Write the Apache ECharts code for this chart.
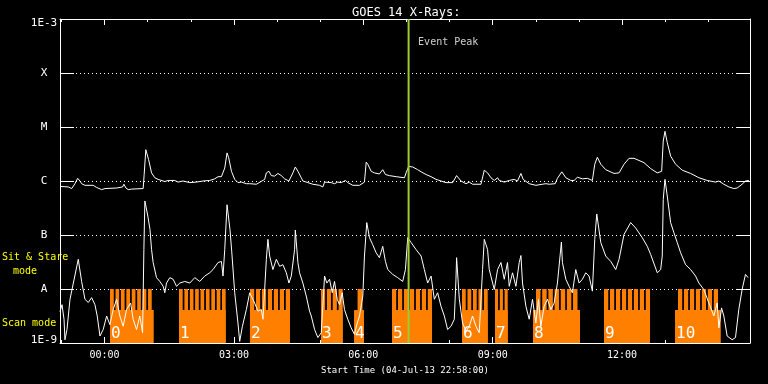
<!DOCTYPE html>
<html><head><meta charset="utf-8">
<script src="https://cdn.jsdelivr.net/npm/echarts@6/dist/echarts.min.js"></script>
<style>html,body{margin:0;padding:0;background:#000}#c{width:768px;height:384px}</style>
</head><body><div id="c"></div>
<script>
// time values are minutes after the start time 04-Jul-13 22:58:00
const titleText = 'GOES 14 X-Rays:';
const axisName = 'Start Time (04-Jul-13 22:58:00)';
const spanMinutes = 960;
const majorTickMin = [62, 242, 422, 602, 782];
const majorTickLabels = ['00:00', '03:00', '06:00', '09:00', '12:00'];
const minorTickMin = [2, 122, 182, 302, 362, 482, 542, 662, 722, 842, 902];
const yTickExp = [-9, -8, -7, -6, -5, -4, -3];
const yTickLabels = ['1E-9', 'A', 'B', 'C', 'M', 'X', '1E-3'];

// [minute, log10 flux (W/m^2)]  long-wave channel (upper curve)
const longChannel = [[0,-6.10],[11.5,-6.11],[16.3,-6.14],[20.8,-6.05],[24.6,-5.95],[27.8,-6.00],[30.1,-6.05],[34.7,-6.08],[46.2,-6.08],[51.0,-6.12],[57.9,-6.16],[62.5,-6.14],[78.8,-6.13],[87.1,-6.11],[88.9,-6.06],[91.7,-6.13],[94.9,-6.16],[99.6,-6.15],[115.7,-6.14],[117.1,-5.88],[119.4,-5.42],[121.3,-5.45],[123.2,-5.60],[127.4,-5.85],[131.9,-5.94],[136.5,-5.97],[145.8,-6.01],[150.4,-5.99],[159.7,-5.99],[164.3,-6.02],[171.2,-6.00],[180.6,-6.03],[189.9,-6.02],[199.0,-6.00],[208.3,-5.99],[215.3,-5.96],[219.9,-5.92],[224.6,-5.92],[226.8,-5.90],[229.2,-5.76],[232.4,-5.48],[234.7,-5.57],[238.5,-5.82],[243.1,-5.97],[247.6,-6.03],[252.4,-6.02],[259.3,-6.05],[263.9,-6.05],[273.2,-6.06],[284.7,-5.97],[287.1,-5.85],[290.7,-5.82],[294.0,-5.90],[298.6,-5.91],[303.2,-5.86],[307.9,-5.90],[312.5,-5.96],[314.9,-5.97],[318.5,-6.00],[320.4,-5.97],[324.0,-5.85],[327.4,-5.74],[331.0,-5.82],[335.7,-5.94],[337.9,-6.00],[344.9,-6.03],[351.8,-6.06],[361.1,-6.08],[365.7,-6.11],[368.1,-6.02],[377.4,-6.03],[381.9,-6.05],[386.5,-6.02],[391.3,-6.03],[397.2,-5.99],[400.4,-6.03],[407.4,-6.08],[416.7,-6.08],[423.6,-6.02],[426.0,-5.65],[428.2,-5.69],[432.9,-5.82],[437.5,-5.85],[444.4,-5.87],[449.0,-5.79],[452.8,-5.88],[458.3,-5.90],[467.6,-5.92],[479.2,-5.94],[481.5,-5.85],[485.1,-5.73],[490.7,-5.74],[497.6,-5.79],[502.4,-5.83],[509.3,-5.88],[516.3,-5.92],[523.2,-5.97],[530.1,-6.00],[537.1,-6.03],[546.3,-6.03],[551.8,-5.90],[557.9,-6.00],[564.9,-6.05],[569.4,-6.02],[574.0,-6.06],[585.7,-6.06],[590.3,-5.80],[594.9,-5.85],[599.6,-5.94],[604.2,-5.99],[608.8,-5.94],[611.1,-5.99],[618.1,-6.02],[625.0,-5.99],[631.9,-5.97],[636.5,-6.00],[641.3,-5.86],[644.4,-5.97],[652.8,-6.05],[662.1,-6.08],[671.2,-6.06],[676.0,-6.05],[680.6,-6.06],[688.9,-6.05],[692.1,-5.95],[698.2,-5.83],[703.8,-5.94],[710.7,-5.99],[715.3,-5.99],[719.9,-5.93],[726.8,-5.96],[733.8,-5.95],[740.7,-5.99],[744.0,-5.69],[747.6,-5.56],[752.4,-5.69],[759.3,-5.79],[770.8,-5.86],[777.8,-5.85],[784.7,-5.69],[791.7,-5.58],[798.6,-5.58],[805.6,-5.62],[812.5,-5.66],[821.8,-5.77],[831.0,-5.85],[837.1,-5.82],[839.3,-5.26],[841.7,-5.08],[844.9,-5.29],[849.6,-5.54],[856.5,-5.69],[865.7,-5.80],[877.4,-5.86],[888.9,-5.94],[900.4,-5.99],[912.1,-6.02],[916.7,-6.00],[923.6,-6.06],[930.6,-6.11],[937.5,-6.14],[942.1,-6.13],[949.0,-6.06],[953.7,-6.00],[958.3,-5.99]];

// [minute, log10 flux (W/m^2)]  short-wave channel (lower curve)
const shortChannel = [[0,-8.42],[2.8,-8.29],[5.6,-8.56],[6.9,-8.94],[9.7,-8.75],[13.9,-8.19],[16.7,-8.01],[25.4,-7.45],[30.1,-7.86],[34.7,-8.19],[39.3,-8.25],[44.0,-8.16],[48.6,-8.29],[51.8,-8.50],[55.6,-8.87],[57.9,-8.90],[60.1,-8.75],[64.9,-8.50],[69.4,-8.66],[74.0,-8.38],[78.8,-8.19],[83.3,-8.50],[87.9,-8.69],[92.6,-8.38],[98.2,-8.26],[101.8,-8.56],[106.5,-8.75],[111.1,-8.50],[114.9,-8.81],[116.7,-7.27],[118.1,-6.37],[119.5,-6.40],[122.2,-6.65],[125.2,-6.90],[127.4,-7.27],[129.6,-7.51],[134.3,-7.79],[138.9,-7.86],[143.5,-7.95],[145.8,-8.07],[148.2,-7.89],[152.8,-7.79],[157.4,-7.82],[162.1,-7.95],[166.7,-7.89],[173.6,-7.86],[180.6,-7.89],[187.5,-7.79],[194.4,-7.86],[201.4,-7.76],[208.3,-7.70],[212.9,-7.64],[219.9,-7.51],[224.6,-7.49],[226.8,-7.76],[229.2,-7.27],[232.4,-6.44],[236.5,-6.90],[238.9,-7.30],[243.1,-8.07],[247.6,-8.63],[250.0,-8.97],[253.8,-8.69],[259.3,-8.38],[263.9,-8.07],[270.8,-8.26],[275.4,-8.41],[280.1,-8.38],[282.4,-8.56],[287.1,-7.45],[289.3,-7.08],[291.7,-7.39],[296.2,-7.64],[301.0,-7.45],[305.6,-7.58],[310.1,-7.55],[314.9,-7.70],[318.5,-7.89],[321.8,-7.76],[326.4,-7.27],[327.4,-6.91],[331.0,-7.51],[333.3,-7.70],[337.9,-7.89],[342.6,-8.13],[347.2,-8.41],[349.6,-8.50],[354.2,-8.75],[358.8,-8.90],[363.5,-8.81],[368.1,-7.76],[371.3,-7.89],[375.0,-7.82],[378.8,-8.07],[381.9,-7.86],[385.7,-8.19],[388.9,-8.29],[392.6,-8.07],[395.8,-8.38],[400.4,-8.56],[405.1,-8.72],[409.7,-8.84],[412.9,-8.66],[416.7,-8.50],[421.3,-8.13],[423.6,-7.39],[426.8,-6.77],[430.6,-7.05],[435.1,-7.18],[439.9,-7.33],[444.4,-7.42],[449.0,-7.21],[452.8,-7.49],[456.0,-7.64],[462.9,-7.73],[469.9,-7.79],[476.8,-7.86],[480.6,-7.64],[483.8,-7.05],[488.5,-7.14],[495.4,-7.27],[502.4,-7.39],[506.9,-7.64],[511.5,-7.89],[516.3,-7.76],[520.8,-8.19],[525.4,-8.07],[530.1,-8.32],[534.7,-8.50],[539.3,-8.75],[544.0,-8.69],[548.6,-8.56],[550.9,-7.82],[551.8,-7.42],[555.6,-8.19],[560.1,-8.63],[564.9,-8.78],[569.4,-8.69],[574.0,-8.50],[578.7,-8.69],[583.3,-8.81],[587.9,-7.64],[590.3,-7.08],[594.9,-7.27],[597.2,-7.64],[604.2,-8.01],[608.8,-7.64],[613.5,-7.51],[618.1,-7.82],[622.6,-7.51],[625.0,-7.95],[629.6,-7.70],[634.3,-7.95],[638.9,-7.51],[641.3,-7.38],[643.5,-7.89],[648.2,-8.32],[652.8,-8.56],[657.4,-8.19],[662.1,-8.63],[665.7,-8.19],[669.0,-8.69],[673.6,-8.32],[678.2,-8.19],[682.9,-8.38],[687.5,-8.26],[692.1,-7.89],[697.6,-7.13],[699.0,-7.51],[703.8,-7.82],[708.3,-7.95],[712.9,-8.07],[717.6,-7.64],[722.2,-7.89],[726.8,-7.82],[731.5,-7.70],[736.1,-7.76],[740.7,-8.04],[744.0,-7.08],[746.8,-6.61],[752.4,-7.14],[759.3,-7.39],[766.3,-7.49],[773.2,-7.64],[777.8,-7.45],[784.7,-6.99],[794.0,-6.77],[800.9,-6.87],[810.1,-7.05],[817.1,-7.21],[821.8,-7.36],[824.0,-7.39],[831.0,-7.70],[835.7,-7.64],[837.9,-7.39],[839.3,-6.34],[841.7,-5.97],[844.9,-6.28],[849.6,-6.77],[854.2,-6.96],[858.8,-7.14],[863.5,-7.33],[870.4,-7.55],[877.4,-7.64],[884.3,-7.76],[888.9,-7.89],[895.8,-8.01],[902.8,-8.26],[909.7,-8.50],[914.3,-8.26],[916.7,-8.72],[920.4,-8.35],[923.6,-8.50],[928.2,-8.87],[935.1,-8.94],[939.8,-8.90],[944.4,-8.38],[949.0,-8.01],[953.7,-7.73],[957.4,-7.79]];

// observing blocks: scan mode intervals [start, end] (minutes)
const scanBlocks = [[69.6,130.4],[165.6,230.5],[264.3,320.0],[363.1,393.3],[409.1,423.0],[461.9,517.6],[559.3,595.1],[605.2,622.9],[658.1,723.5],[756.9,820.9],[855.7,919.3]];
const blockLabels = ['0','1','2','3','4','5','6','7','8','9','10'];
// sit & stare intervals [start, end] (minutes)
const stareIntervals = [
 [69.6,74.8],[77.2,82.3],[84.7,89.9],[92.3,97.4],[99.8,105.0],[107.4,112.5],[114.9,120.1],[122.5,127.6],
 [165.6,170.7],[173.1,178.2],[180.6,185.7],[188.0,193.1],[195.5,200.6],[203.0,208.1],[210.5,215.6],[218.0,223.1],[225.4,230.5],
 [264.3,270.2],[272.6,278.5],[280.9,286.8],[289.2,295.1],[297.5,303.4],[305.8,311.7],[314.1,320.0],
 [363.1,368.9],[371.3,377.0],[379.4,385.2],[387.6,393.3],
 [414.0,420.9],
 [461.9,467.8],[470.2,476.1],[478.5,484.4],[486.8,492.7],[495.1,501.0],[503.4,509.3],[511.7,517.6],
 [559.3,564.5],[566.9,572.2],[574.6,579.8],[582.2,587.5],[589.9,595.1],
 [605.2,609.5],[611.9,616.2],[618.6,622.9],
 [662.3,668.5],[670.9,677.1],[679.5,685.7],[688.1,694.3],[696.7,702.9],[705.2,711.4],[713.8,720.0],
 [756.9,762.8],[765.2,771.1],[773.5,779.4],[781.8,787.7],[790.1,796.0],[798.4,804.3],[806.7,812.6],[815.0,820.9],
 [859.8,865.7],[868.1,874.0],[876.4,882.3],[884.7,890.6],[893.0,898.9],[901.3,907.2],[909.6,915.5]];
const scanLevelLog = -8.39;
const stareLevelLog = -8;
const eventPeakMin = 485;
const eventLabelLog = -3.44;

const FONT = 'DejaVu Sans Mono';
const ORANGE = '#ff8000';
const toFlux = a => a.map(p => [p[0], Math.pow(10, p[1])]);
const bottomFlux = Math.pow(10, yTickExp[0]);
const topFlux = Math.pow(10, yTickExp[yTickExp.length - 1]);

const modeData = scanBlocks.map(b => [b[0], b[1], Math.pow(10, scanLevelLog)])
  .concat(stareIntervals.map(b => [b[0], b[1], Math.pow(10, stareLevelLog)]));

function xAxisDef(pos, ticks, len, withLabels, showLine) {
  return {
    type: 'value', min: 0, max: spanMinutes, position: pos,
    axisLine: { show: showLine, onZero: false, lineStyle: { color: '#fff', width: 1 } },
    axisTick: { show: true, inside: true, length: len, customValues: ticks, lineStyle: { color: '#fff' } },
    axisLabel: withLabels ? {
      show: true, customValues: ticks, color: '#fff', fontFamily: FONT, fontSize: 10, margin: 7,
      formatter: v => { const i = majorTickMin.indexOf(Math.round(v)); return i >= 0 ? majorTickLabels[i] : ''; }
    } : { show: false },
    splitLine: { show: false },
    name: withLabels ? axisName : '', nameLocation: 'middle', nameGap: 23,
    nameTextStyle: { color: '#fff', fontFamily: FONT, fontSize: 9 }
  };
}

const chart = echarts.init(document.getElementById('c'), null, { renderer: 'canvas' });
chart.setOption({
  animation: false,
  backgroundColor: '#000',
  textStyle: { fontFamily: FONT },
  title: { text: titleText, left: 347, top: 2, textStyle: { color: '#fff', fontFamily: FONT, fontSize: 12, fontWeight: 'normal' } },
  grid: { left: 60, right: 18, top: 19, bottom: 41, containLabel: false },
  xAxis: [
    xAxisDef('bottom', majorTickMin, 6, true, true),
    xAxisDef('bottom', minorTickMin, 3, false, false),
    xAxisDef('top', majorTickMin, 6, false, true),
    xAxisDef('top', minorTickMin, 3, false, false)
  ],
  yAxis: [
    {
      type: 'log', logBase: 10, min: bottomFlux, max: topFlux, splitNumber: 6, position: 'left',
      axisLine: { show: true, onZero: false, lineStyle: { color: '#fff' } },
      axisTick: { show: true, inside: true, length: 14, lineStyle: { color: '#fff' } },
      minorTick: { show: false },
      axisLabel: {
        color: '#fff', fontFamily: FONT, fontSize: 11, align: 'center', margin: 16,
        formatter: v => {
          const e = Math.round(Math.log10(v));
          const i = yTickExp.indexOf(e);
          if (i < 0) return '';
          if (i === yTickExp.length - 1) return '{t|' + yTickLabels[i] + '}';
          if (i === 0) return '{b|' + yTickLabels[i] + '}';
          return yTickLabels[i];
        },
        rich: { t: { padding: [8, 0, 0, 0], color: '#fff', fontFamily: FONT, fontSize: 11 },
                b: { padding: [0, 0, 5, 0], color: '#fff', fontFamily: FONT, fontSize: 11 } }
      },
      splitLine: { show: true, lineStyle: { color: '#fff', width: 1, type: [1, 3] } }
    },
    {
      type: 'log', logBase: 10, min: bottomFlux, max: topFlux, splitNumber: 6, position: 'right',
      axisLine: { show: true, onZero: false, lineStyle: { color: '#fff' } },
      axisTick: { show: true, inside: true, length: 14, lineStyle: { color: '#fff' } },
      axisLabel: { show: false }, splitLine: { show: false }
    }
  ],
  graphic: [
    { type: 'text', left: 2, top: 252, style: { text: 'Sit & Stare', fill: '#ffff00', font: '10px ' + FONT } },
    { type: 'text', left: 13, top: 266, style: { text: 'mode', fill: '#ffff00', font: '10px ' + FONT } },
    { type: 'text', left: 2, top: 318, style: { text: 'Scan mode', fill: '#ffff00', font: '10px ' + FONT } }
  ],
  series: [
    {
      type: 'custom', xAxisIndex: 0, yAxisIndex: 0, z: 1, silent: true,
      encode: { x: [0, 1], y: 2 },
      renderItem: (params, api) => {
        const a = api.coord([api.value(0), api.value(2)]);
        const b = api.coord([api.value(1), bottomFlux]);
        return { type: 'rect', shape: { x: a[0], y: a[1], width: b[0] - a[0], height: b[1] - a[1] }, style: { fill: ORANGE } };
      },
      data: modeData
    },
    {
      type: 'custom', xAxisIndex: 0, yAxisIndex: 0, z: 2, silent: true,
      encode: { x: 0 },
      renderItem: (params, api) => {
        const c = api.coord([api.value(0), bottomFlux]);
        return { type: 'text', x: c[0] + 1, y: c[1] - 1,
          style: { text: blockLabels[api.value(1)], fill: '#fff', fontSize: 16, fontFamily: FONT, align: 'left', verticalAlign: 'bottom' } };
      },
      data: scanBlocks.map((b, i) => [b[0], i])
    },
    { type: 'line', name: 'long', xAxisIndex: 0, yAxisIndex: 0, z: 3, showSymbol: false, symbol: 'none',
      lineStyle: { color: '#fff', width: 1 }, data: toFlux(longChannel) },
    { type: 'line', name: 'short', xAxisIndex: 0, yAxisIndex: 0, z: 3, showSymbol: false, symbol: 'none',
      lineStyle: { color: '#fff', width: 1 }, data: toFlux(shortChannel) },
    { type: 'line', name: 'event', xAxisIndex: 0, yAxisIndex: 0, z: 5, symbol: 'none',
      lineStyle: { color: '#9acd32', width: 2 }, data: [[eventPeakMin, bottomFlux], [eventPeakMin, topFlux]] },
    { type: 'scatter', xAxisIndex: 0, yAxisIndex: 0, z: 5, symbolSize: 1, itemStyle: { color: 'rgba(0,0,0,0)' },
      label: { show: true, position: 'right', distance: 9, formatter: 'Event Peak', color: '#fff', fontFamily: FONT, fontSize: 10 },
      data: [[eventPeakMin, Math.pow(10, eventLabelLog)]] }
  ]
});
</script></body></html>
